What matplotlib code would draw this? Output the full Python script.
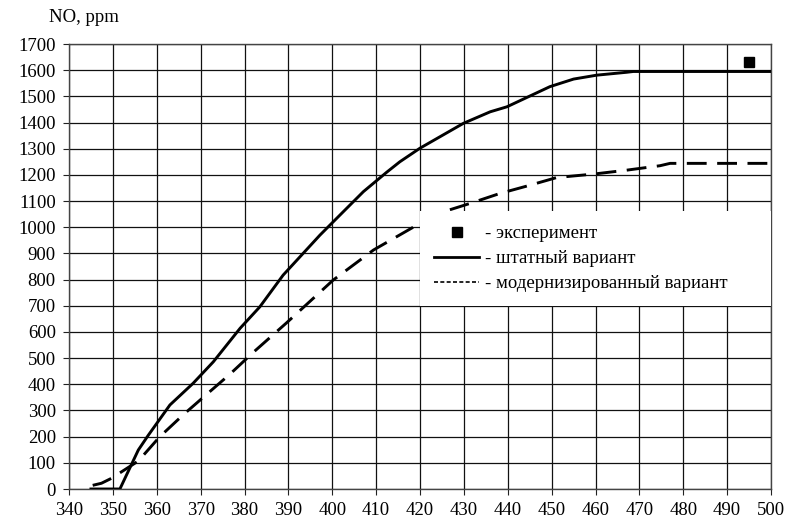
import numpy as np
import matplotlib
matplotlib.use("Agg")
import matplotlib.pyplot as plt
from matplotlib.lines import Line2D
from matplotlib.patches import Rectangle

plt.rcParams["font.family"] = ["Liberation Serif", "DejaVu Serif"]

# ── Data ──────────────────────────────────────────────────────────────────
std_x = [345, 351.6, 355.8, 358.1, 363, 368.3, 372.9, 379, 383.5, 388.8,
         397.2, 402.5, 407.1, 412.4, 415.4, 420, 429.9, 436, 439.8, 449.6,
         455, 460.3, 467.1, 468.6, 500]
std_y = [0, 0, 149, 206, 321, 404, 486, 614, 696, 817,
         970, 1059, 1136, 1210, 1250, 1302, 1397, 1441, 1460, 1537,
         1566, 1581, 1592, 1595, 1595]

mod_x = [345.4, 347.4, 349.7, 352, 355.8, 360.7, 366, 371.4, 376.7, 382,
         389.6, 400.2, 409.4, 420, 426.1, 431.4, 438.2, 444.3, 451.2, 459.5,
         467.1, 474.7, 477, 500]
mod_y = [14, 22, 41, 66, 107, 200, 283, 362, 439, 522,
         635, 798, 913, 1015, 1063, 1091, 1129, 1157, 1190, 1203,
         1218, 1235, 1244, 1244]

exp_x = [495]
exp_y = [1630]

labels = ["- эксперимент", "- штатный вариант", "- модернизированный вариант"]

x_ticks = np.arange(340, 501, 10)
y_ticks = np.arange(0, 1701, 100)

# legend box region (data units)
LEG_X0, LEG_X1 = 420, 500
LEG_Y0, LEG_Y1 = 700, 1062

# ── Figure ─────────────────────────────────────────────────────────────────
FS = 13.5
fig = plt.figure(figsize=(7.89, 5.30), dpi=100)
ax = fig.add_axes([69/789, 41/530, 702/789, 445/530])

ax.set_xlim(340, 500)
ax.set_ylim(0, 1700)
ax.set_xticks(x_ticks)
ax.set_yticks(y_ticks)
ax.grid(True, color="#111111", lw=0.9)
ax.set_axisbelow(True)
for s in ax.spines.values():
    s.set_color("#444444")
    s.set_linewidth(1.0)
ax.tick_params(direction="out", length=4.5, width=0.8, color="#222222",
               labelsize=FS, pad=5)

ax.plot(std_x, std_y, color="black", lw=2.1, zorder=3)
ax.plot(mod_x, mod_y, color="black", lw=2.1, dashes=(6.8, 3.6), zorder=3)
ax.plot(exp_x, exp_y, "s", color="black", ms=7.5, zorder=3)

ax.add_patch(Rectangle((LEG_X0, LEG_Y0), LEG_X1 - LEG_X0, LEG_Y1 - LEG_Y0,
                       facecolor="white", edgecolor="none", zorder=4))
handles = [Line2D([], [], ls="none", marker="s", color="black", ms=7.5),
           Line2D([], [], color="black", lw=2.0),
           Line2D([], [], color="black", lw=1.2, dashes=(2.4, 1.4))]
leg = ax.legend(handles, labels, loc="upper left",
                bbox_to_anchor=(LEG_X0, LEG_Y1), bbox_transform=ax.transData,
                frameon=False, fontsize=FS, handlelength=2.4,
                handletextpad=0.3, borderaxespad=0, borderpad=0.75,
                labelspacing=0.42)
leg.set_zorder(5)

fig.text(49/789, 1 - 18/530, "NO, ppm", fontsize=FS, va="center", ha="left")

fig.savefig("out.png", dpi=100)
plt.close()
